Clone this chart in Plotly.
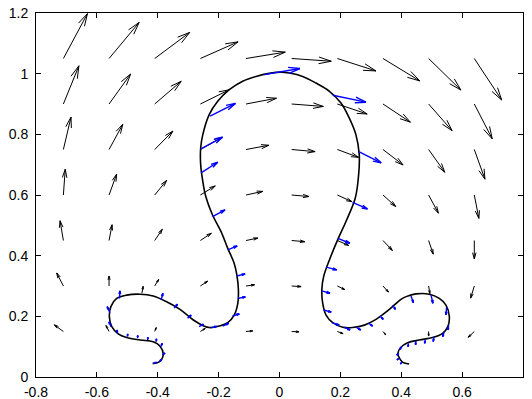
import math
import plotly.graph_objects as go

# ---------------- data ----------------
# grid of the background velocity field (tails)
grid_x = [-0.71, -0.56, -0.41, -0.26, -0.11, 0.04, 0.19, 0.34, 0.49, 0.64]
grid_y = [1.05, 0.90, 0.75, 0.60, 0.45, 0.30, 0.15]

# u, v components (rows top -> bottom, columns left -> right)
grid_u = [
    [0.079, 0.099, 0.115, 0.124, 0.129, 0.130, 0.127, 0.121, 0.106, 0.090],
    [0.051, 0.071, 0.087, 0.095, 0.100, 0.104, 0.098, 0.090, 0.077, 0.059],
    [0.025, 0.045, 0.060, 0.071, 0.075, 0.077, 0.070, 0.066, 0.053, 0.035],
    [0.006, 0.025, 0.039, 0.049, 0.055, 0.057, 0.048, 0.042, 0.032, 0.015],
    [-0.011, 0.010, 0.025, 0.036, 0.039, 0.043, 0.037, 0.031, 0.015, 0.000],
    [-0.022, 0.000, 0.013, 0.024, 0.028, 0.031, 0.025, 0.018, 0.004, -0.012],
    [-0.030, -0.010, 0.005, 0.016, 0.022, 0.024, 0.019, 0.009, 0.000, -0.020],
]
grid_v = [
    [0.148, 0.119, 0.086, 0.055, 0.021, -0.009, -0.041, -0.074, -0.104, -0.137],
    [0.126, 0.099, 0.075, 0.047, 0.019, -0.008, -0.033, -0.060, -0.088, -0.115],
    [0.107, 0.083, 0.061, 0.040, 0.014, -0.007, -0.026, -0.051, -0.075, -0.098],
    [0.085, 0.069, 0.048, 0.030, 0.012, -0.005, -0.022, -0.038, -0.060, -0.077],
    [0.065, 0.052, 0.037, 0.024, 0.008, -0.004, -0.016, -0.033, -0.045, -0.061],
    [0.043, 0.033, 0.022, 0.016, 0.004, -0.002, -0.012, -0.020, -0.025, -0.040],
    [0.022, 0.020, 0.013, 0.010, 0.002, -0.001, -0.007, -0.011, -0.015, -0.019],
]

# extra black arrow on the curve
extra_x = [-0.452]
extra_y = [0.276]
extra_u = [0.004]
extra_v = [0.023]

# the curve
curve_x = [-0.417, -0.398, -0.382, -0.393, -0.415, -0.458, -0.502, -0.530, -0.551, -0.559,
           -0.554, -0.535, -0.502, -0.458, -0.415, -0.371, -0.327, -0.283, -0.250, -0.231,
           -0.198, -0.170, -0.149, -0.137, -0.135, -0.140, -0.149, -0.170, -0.192, -0.220,
           -0.242, -0.252, -0.259, -0.259, -0.252, -0.231, -0.203, -0.165, -0.121, -0.077,
           -0.034, 0.005, 0.032, 0.076, 0.120, 0.164, 0.202, 0.229, 0.251, 0.262,
           0.260, 0.249, 0.218, 0.191, 0.164, 0.145, 0.139, 0.142, 0.153, 0.175,
           0.208, 0.240, 0.279, 0.317, 0.361, 0.399, 0.416, 0.448, 0.492, 0.525,
           0.547, 0.558, 0.553, 0.536, 0.503, 0.459, 0.421, 0.399, 0.389, 0.394,
           0.405, 0.426]
curve_y = [0.045, 0.048, 0.073, 0.102, 0.116, 0.122, 0.130, 0.142, 0.166, 0.199,
           0.232, 0.259, 0.270, 0.273, 0.267, 0.248, 0.223, 0.188, 0.169, 0.163,
           0.168, 0.179, 0.204, 0.243, 0.287, 0.336, 0.375, 0.424, 0.479, 0.534,
           0.594, 0.645, 0.700, 0.755, 0.799, 0.865, 0.909, 0.947, 0.975, 0.991,
           1.001, 1.005, 1.002, 0.991, 0.969, 0.942, 0.903, 0.854, 0.799, 0.733,
           0.667, 0.590, 0.512, 0.452, 0.386, 0.331, 0.287, 0.243, 0.204, 0.179,
           0.164, 0.163, 0.171, 0.190, 0.223, 0.256, 0.265, 0.274, 0.273, 0.259,
           0.237, 0.199, 0.166, 0.144, 0.130, 0.122, 0.113, 0.098, 0.078, 0.062,
           0.048, 0.043]

# blue velocity arrows on the curve
blue_x = [-0.415, -0.395, -0.385, -0.390, -0.406, -0.433, -0.466, -0.499, -0.532, -0.554,
          -0.557, -0.526, -0.389, -0.346, -0.302, -0.264, -0.225, -0.187, -0.154, -0.137,
          -0.140, -0.170, -0.220, -0.258, -0.258, -0.228, -0.050, 0.175, 0.262, 0.240,
          0.192, 0.153, 0.139, 0.145, 0.172, 0.213, 0.251, 0.293, 0.330, 0.372,
          0.432, 0.498, 0.549, 0.556, 0.541, 0.508, 0.479, 0.448, 0.424, 0.402,
          0.392, 0.392, 0.402]
blue_y = [0.045, 0.050, 0.073, 0.100, 0.116, 0.122, 0.128, 0.133, 0.144, 0.166,
          0.212, 0.259, 0.254, 0.227, 0.194, 0.166, 0.163, 0.168, 0.201, 0.259,
          0.333, 0.419, 0.529, 0.673, 0.752, 0.860, 0.997, 0.929, 0.742, 0.576,
          0.457, 0.362, 0.284, 0.221, 0.179, 0.164, 0.164, 0.177, 0.201, 0.237,
          0.267, 0.270, 0.230, 0.171, 0.149, 0.133, 0.124, 0.119, 0.111, 0.100,
          0.078, 0.062, 0.048]
blue_u = [0.011, 0.008, 0.009, 0.005, 0.002, 0.001, 0.000, 0.000, -0.002, -0.006,
          -0.009, 0.002, 0.006, 0.011, 0.012, 0.014, 0.019, 0.020, 0.022, 0.025,
          0.027, 0.031, 0.041, 0.055, 0.071, 0.083, 0.117, 0.109, 0.072, 0.049,
          0.039, 0.035, 0.027, 0.025, 0.024, 0.019, 0.016, 0.013, 0.011, 0.009,
          0.008, 0.006, -0.002, -0.003, -0.005, -0.003, -0.002, -0.001, -0.002, -0.007,
          -0.007, -0.006, -0.005]
blue_v = [0.003, 0.008, 0.006, 0.011, 0.010, 0.009, 0.009, 0.009, 0.011, 0.016,
          0.020, 0.025, 0.022, 0.013, 0.010, 0.008, 0.004, 0.009, 0.007, 0.005,
          0.007, 0.013, 0.022, 0.035, 0.039, 0.042, 0.020, -0.023, -0.036, -0.022,
          -0.016, -0.009, -0.008, -0.007, -0.008, -0.009, -0.009, -0.009, -0.011, -0.014,
          -0.022, -0.027, -0.025, -0.016, -0.016, -0.016, -0.013, -0.013, -0.011, -0.009,
          -0.006, -0.006, -0.005]

x_ticks = [-0.8, -0.6, -0.4, -0.2, 0, 0.2, 0.4, 0.6, 0.8]
x_tick_labels = ["-0.8", "-0.6", "-0.4", "-0.2", "0", "0.2", "0.4", "0.6", "0.8"]
y_ticks = [0, 0.2, 0.4, 0.6, 0.8, 1.0, 1.2]
y_tick_labels = ["0", "0.2", "0.4", "0.6", "0.8", "1", "1.2"]

# ---------------- helpers ----------------
SX = 487 / 1.6   # px per data unit (x)
SY = 364 / 1.2   # px per data unit (y)


def arrow_paths(xs, ys, us, vs, frac=0.3, cap=13.0, ang_deg=15.0):
    lx, ly = [], []
    a = math.radians(ang_deg)
    for x, y, u, v in zip(xs, ys, us, vs):
        px, py = u * SX, v * SY
        L = math.hypot(px, py)
        if L < 1e-9:
            continue
        tx, ty = x + u, y + v
        lx += [x, tx, None]
        ly += [y, ty, None]
        h = min(frac * L + 1.0, cap)
        bx, by = -px / L, -py / L
        for s in (a, -a):
            rx = bx * math.cos(s) - by * math.sin(s)
            ry = bx * math.sin(s) + by * math.cos(s)
            lx += [tx + rx * h / SX, tx, None]
            ly += [ty + ry * h / SY, ty, None]
    return lx, ly


gx, gy, gu, gv = [], [], [], []
for r, yy in enumerate(grid_y):
    for c, xx in enumerate(grid_x):
        gx.append(xx)
        gy.append(yy)
        gu.append(grid_u[r][c])
        gv.append(grid_v[r][c])
gx += extra_x
gy += extra_y
gu += extra_u
gv += extra_v

fig = go.Figure()

bx_, by_ = arrow_paths(gx, gy, gu, gv)
fig.add_trace(go.Scatter(x=bx_, y=by_, mode="lines",
                         line=dict(color="black", width=1), hoverinfo="skip"))

fig.add_trace(go.Scatter(x=curve_x, y=curve_y, mode="lines",
                         line=dict(color="black", width=1.6, shape="spline", smoothing=1.0),
                         hoverinfo="skip"))

ux_, uy_ = arrow_paths(blue_x, blue_y, blue_u, blue_v)
fig.add_trace(go.Scatter(x=ux_, y=uy_, mode="lines",
                         line=dict(color="#0000ff", width=1.4), hoverinfo="skip"))

axis_common = dict(showgrid=False, zeroline=False, showline=True, linecolor="black",
                   linewidth=1, mirror="ticks", ticks="inside", ticklen=5,
                   tickcolor="black", tickwidth=1, automargin=False,
                   tickfont=dict(family="Liberation Sans, Arial, sans-serif", size=14, color="black"))

fig.update_layout(
    width=532, height=399,
    margin=dict(l=36, r=9, t=13, b=22, autoexpand=False),
    paper_bgcolor="white", plot_bgcolor="white",
    showlegend=False,
    xaxis=dict(range=[-0.8, 0.8], tickvals=x_ticks, ticktext=x_tick_labels,
               ticklabelstandoff=2, **axis_common),
    yaxis=dict(range=[0, 1.2], tickvals=y_ticks, ticktext=y_tick_labels,
               ticklabelstandoff=4, **axis_common),
)

fig.write_html("out.html")
